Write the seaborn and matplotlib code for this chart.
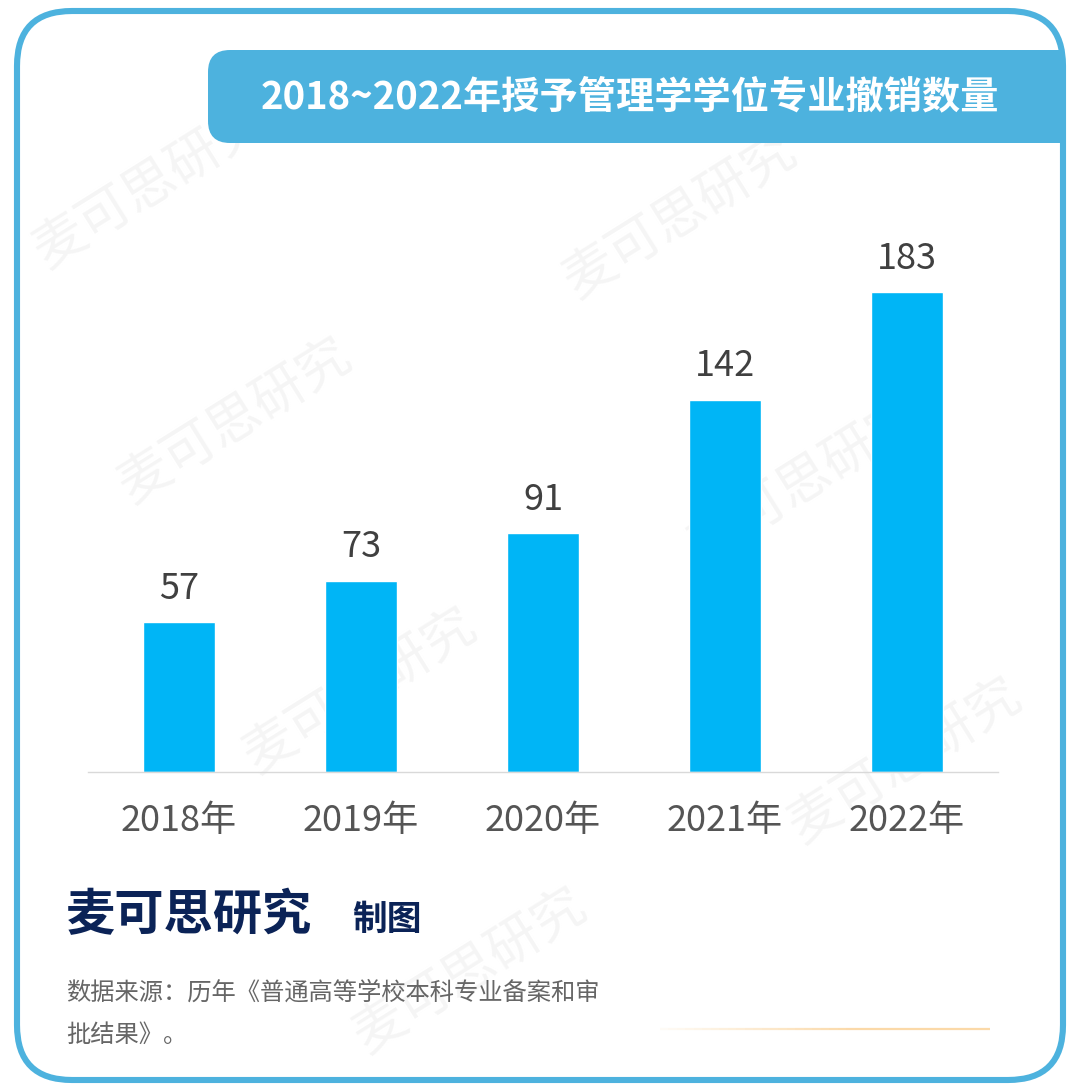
import numpy as np
import matplotlib
matplotlib.use('Agg')
import matplotlib.pyplot as plt
import seaborn as sns
import pandas as pd
from matplotlib.patches import FancyBboxPatch, Rectangle

# Données
annees = ['2018年', '2019年', '2020年', '2021年', '2022年']
revocations = [57, 73, 91, 142, 183]

titre = '2018~2022年授予管理学学位专业撤销数量'
marque = '麦可思研究'
marque_suffixe = '制图'
source_l1 = '数据来源：历年《普通高等学校本科专业备案和审'
source_l2 = '批结果》。'

# Style
sns.set_theme(style='white')
plt.rcParams['font.family'] = ['Noto Sans CJK SC', 'DejaVu Sans']

bleu_barre = '#00B5F6'
bleu_cadre = '#4DB2DE'

df = pd.DataFrame({'annee': annees, 'n': revocations})

fig = plt.figure(figsize=(10.8, 10.89), dpi=100)
fig.patch.set_facecolor('white')

# Fond en coordonnées pixels
bg = fig.add_axes([0, 0, 1, 1], zorder=0)
bg.set_xlim(0, 1080)
bg.set_ylim(1089, 0)
bg.axis('off')

# filigranes
for (wx, wy) in [(150, 185), (680, 215), (235, 420), (805, 480),
                 (360, 690), (905, 760), (470, 970)]:
    bg.text(wx, wy, marque, fontsize=38, color='#F5F5F5', rotation=32,
            ha='center', va='center', zorder=0)

# bandeau du titre
bandeau = FancyBboxPatch((208, 50), 850, 93, boxstyle='round,pad=0,rounding_size=22',
                         facecolor=bleu_cadre, edgecolor='none', zorder=2)
bg.add_patch(bandeau)
bg.add_patch(Rectangle((1010, 50), 52, 93, facecolor=bleu_cadre, edgecolor='none', zorder=2))
bg.text(630, 97, titre, color='white', fontsize=27.5, fontweight='bold',
        ha='center', va='center', zorder=3)

# cadre arrondi
cadre = FancyBboxPatch((17, 11), 1046, 1069, boxstyle='round,pad=0,rounding_size=55',
                       facecolor='none', edgecolor=bleu_cadre, linewidth=4.4, zorder=4)
bg.add_patch(cadre)

# ligne orange décorative
xs = np.linspace(660, 990, 40)
for i in range(len(xs) - 1):
    bg.plot(xs[i:i + 2], [1029, 1029], color='#FBD9A8', lw=1.6,
            alpha=min(1.0, 0.1 + i / 25), solid_capstyle='butt', zorder=2)

# pied de page
bg.text(66, 930, marque, fontsize=35.5, fontweight='bold', color='#0B2357',
        ha='left', va='baseline', zorder=3)
bg.text(352, 930, marque_suffixe, fontsize=25, fontweight='bold', color='#0B2357',
        ha='left', va='baseline', zorder=3)
bg.text(66, 993, source_l1, fontsize=17.5, color='#666666', ha='left', va='center', zorder=3)
bg.text(66, 1035, source_l2, fontsize=17.5, color='#666666', ha='left', va='center', zorder=3)

# Graphique principal
ax = fig.add_axes([88 / 1080, 317 / 1089, 910 / 1080, 524.6 / 1089], zorder=1)
ax.patch.set_alpha(0)
sns.barplot(data=df, x='annee', y='n', color=bleu_barre, saturation=1, width=0.4, ax=ax)
ax.set_xlim(-0.5, 4.5)
ax.set_ylim(0, 200)
ax.set_xlabel('')
ax.set_ylabel('')
ax.set_yticks([])
for s in ['left', 'right', 'top']:
    ax.spines[s].set_visible(False)
ax.spines['bottom'].set_color('#D9D9D9')
ax.spines['bottom'].set_linewidth(1)
ax.tick_params(axis='x', length=0, pad=22, labelsize=26, labelcolor='#555555')

for i, v in enumerate(revocations):
    ax.annotate(str(v), (i, v), xytext=(0, 24), textcoords='offset points',
                ha='center', va='center', fontsize=26, color='#404040')

fig.savefig('out.png', dpi=100, facecolor='white')
